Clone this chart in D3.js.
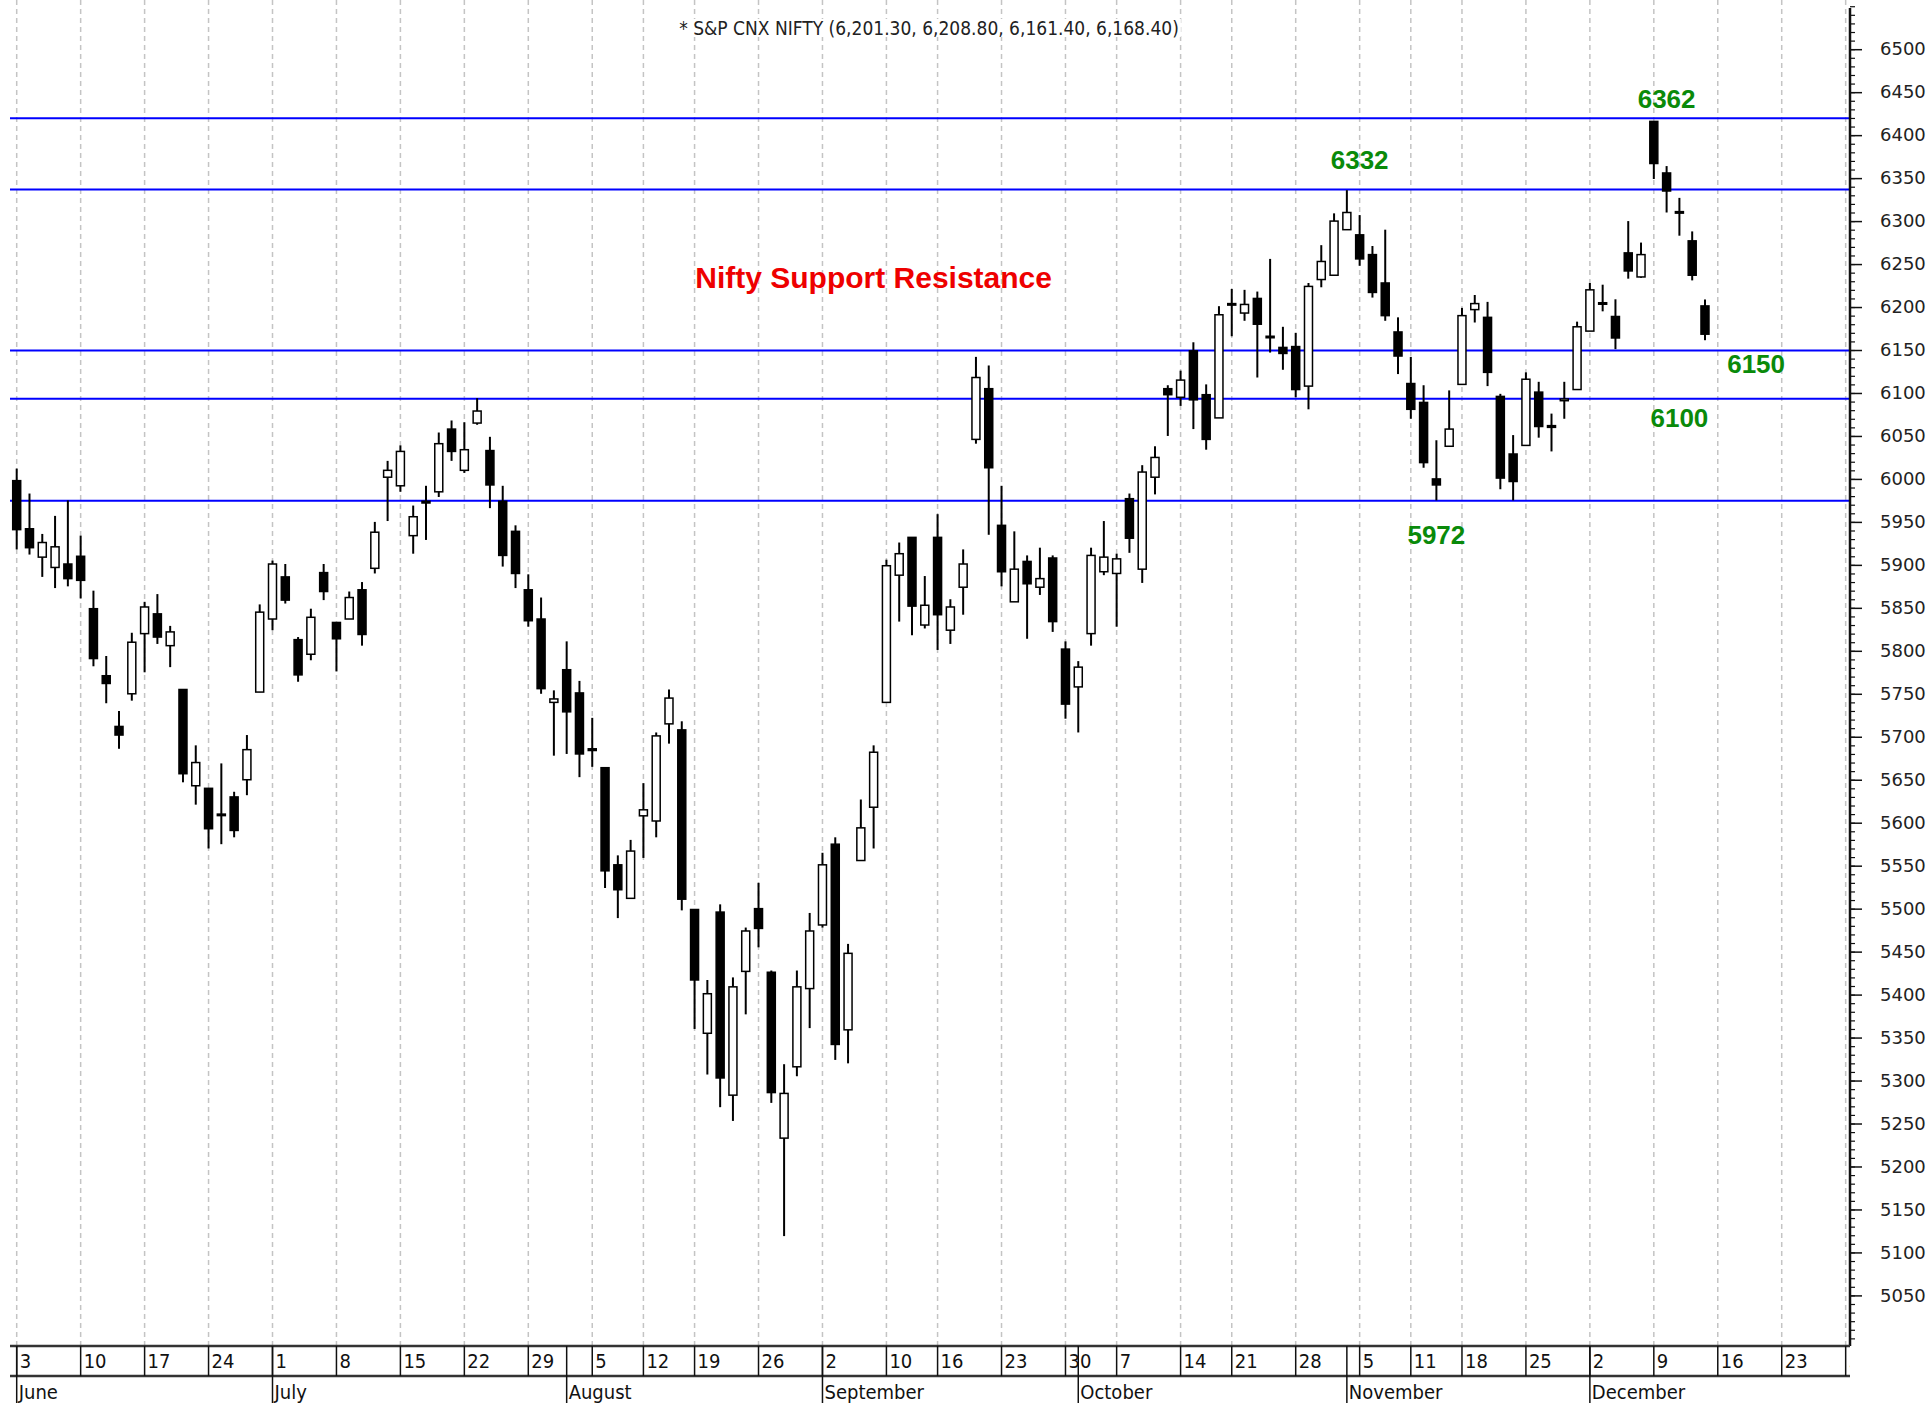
<!DOCTYPE html>
<html>
<head>
<meta charset="utf-8">
<script src="https://cdn.jsdelivr.net/npm/d3@7"></script>
<style>
  body { margin: 0; background: #fff; }
  svg { display: block; }
</style>
</head>
<body>
<div id="chart"></div>
<script>
// trading days on the chart (NSE, June - December 2013)
const dates = [
  "2013-06-03","2013-06-04","2013-06-05","2013-06-06","2013-06-07","2013-06-10","2013-06-11","2013-06-12","2013-06-13","2013-06-14",
  "2013-06-17","2013-06-18","2013-06-19","2013-06-20","2013-06-21","2013-06-24","2013-06-25","2013-06-26","2013-06-27","2013-06-28",
  "2013-07-01","2013-07-02","2013-07-03","2013-07-04","2013-07-05","2013-07-08","2013-07-09","2013-07-10","2013-07-11","2013-07-12",
  "2013-07-15","2013-07-16","2013-07-17","2013-07-18","2013-07-19","2013-07-22","2013-07-23","2013-07-24","2013-07-25","2013-07-26",
  "2013-07-29","2013-07-30","2013-07-31",
  "2013-08-01","2013-08-02","2013-08-05","2013-08-06","2013-08-07","2013-08-08","2013-08-12","2013-08-13","2013-08-14","2013-08-16",
  "2013-08-19","2013-08-20","2013-08-21","2013-08-22","2013-08-23","2013-08-26","2013-08-27","2013-08-28","2013-08-29","2013-08-30",
  "2013-09-02","2013-09-03","2013-09-04","2013-09-05","2013-09-06","2013-09-10","2013-09-11","2013-09-12","2013-09-13","2013-09-16",
  "2013-09-17","2013-09-18","2013-09-19","2013-09-20","2013-09-23","2013-09-24","2013-09-25","2013-09-26","2013-09-27","2013-09-30",
  "2013-10-01","2013-10-03","2013-10-04","2013-10-07","2013-10-08","2013-10-09","2013-10-10","2013-10-11","2013-10-14","2013-10-15",
  "2013-10-17","2013-10-18","2013-10-21","2013-10-22","2013-10-23","2013-10-24","2013-10-25","2013-10-28","2013-10-29","2013-10-30",
  "2013-10-31",
  "2013-11-01","2013-11-05","2013-11-06","2013-11-07","2013-11-08","2013-11-11","2013-11-12","2013-11-13","2013-11-14","2013-11-18",
  "2013-11-19","2013-11-20","2013-11-21","2013-11-22","2013-11-25","2013-11-26","2013-11-27","2013-11-28","2013-11-29",
  "2013-12-02","2013-12-03","2013-12-04","2013-12-05","2013-12-06","2013-12-09","2013-12-10","2013-12-11","2013-12-12","2013-12-13"
]

// empty days the chart keeps on the right
const futureDates = ["2013-12-16","2013-12-17","2013-12-18","2013-12-19","2013-12-20",
  "2013-12-23","2013-12-24","2013-12-25","2013-12-26","2013-12-27","2013-12-30"]

const opens = [
  5998,5942,5909,5897,5901,5910,5849,5771,5712,5750, 5820,5843,5806,5755,5643,5640,5610,5630,5650,5752,
  5837,5886,5813,5796,5891,5833,5837,5871,5896,6002, 5992,5934,5974,5985,6058,6010,6065,6033,5974,5939,
  5871,5837,5740,
  5778,5751,5686,5664,5551,5512,5608,5602,5715,5708, 5499,5355,5496,5283,5427,5500,5426,5233,5316,5407,
  5481,5575,5359,5556,5618,5740,5888,5932,5830,5932, 5824,5874,6046,6105,5946,5857,5904,5874,5908,5802,
  5758,5820,5892,5890,5977,5895,6002,6105,6095,6149, 6098,6071,6204,6193,6210,6166,6153,6154,6108,6232,
  6237,
  6290,6284,6261,6228,6171,6111,6089,6000,6038,6110, 6197,6188,6096,6029,6039,6101,6062,6091,6104,
  6172,6205,6189,6263,6235,6416,6356,6311,6277,6201.3
]

const highs = [
  6012,5983,5936,5957,5975,5934,5870,5794,5730,5821, 5857,5866,5829,5755,5690,5640,5669,5636,5702,5854,
  5905,5901,5816,5849,5901,5833,5869,5880,5950,6021, 6039,5969,5992,6054,6068,6066,6094,6049,5992,5946,
  5889,5862,5754,
  5811,5765,5722,5664,5562,5580,5646,5705,5755,5718, 5499,5417,5505,5420,5478,5530,5428,5319,5428,5495,
  5565,5583,5459,5627,5690,5906,5926,5932,5887,5959, 5860,5918,6142,6132,5992,5939,5911,5920,5911,5811,
  5788,5920,5951,5913,5983,6016,6038,6109,6126,6159, 6110,6201,6221,6220,6218,6256,6177,6170,6228,6272,
  6309,
  6336,6307,6271,6290,6188,6142,6109,6045,6103,6199, 6214,6206,6099,6051,6124,6113,6076,6113,6183,
  6228,6226,6209,6300,6275,6416,6364,6327,6288,6208.8
]

const lows = [
  5918,5912,5886,5873,5875,5861,5782,5739,5686,5742, 5775,5808,5781,5647,5621,5570,5575,5583,5632,5752,
  5824,5855,5764,5789,5859,5776,5837,5806,5890,5951, 5985,5913,5929,5979,6021,6007,6063,5966,5898,5873,
  5828,5750,5678,
  5680,5653,5665,5524,5489,5512,5559,5583,5692,5498, 5360,5307,5269,5253,5377,5455,5274,5119,5305,5361,
  5478,5324,5320,5556,5570,5740,5834,5818,5826,5801, 5808,5842,6041,5935,5875,5857,5814,5865,5822,5721,
  5705,5806,5888,5828,5914,5879,5982,6050,6085,6058, 6034,6071,6166,6184,6118,6147,6127,6095,6081,6223,
  6237,
  6290,6248,6211,6184,6122,6070,6013,5975,6038,6110, 6182,6108,5988,5975,6039,6048,6032,6070,6104,
  6172,6195,6151,6233,6234,6349,6310,6283,6231,6161.4
]

const closes = [
  5941,5920,5926,5921,5884,5882,5791,5762,5702,5810, 5851,5816,5822,5657,5670,5593,5609,5591,5685,5845,
  5901,5859,5772,5839,5869,5814,5862,5819,5938,6010, 6032,5956,5972,6041,6032,6034,6079,5993,5911,5890,
  5835,5756,5744,
  5729,5680,5684,5544,5522,5567,5615,5701,5745,5511, 5417,5401,5303,5409,5474,5477,5286,5285,5409,5474,
  5551,5342,5448,5594,5682,5899,5913,5852,5853,5842, 5851,5901,6118,6013,5892,5895,5878,5884,5834,5738,
  5781,5911,5909,5907,5931,6008,6025,6098,6115,6092, 6046,6191,6203,6203,6180,6165,6146,6104,6224,6253,
  6300,
  6310,6256,6217,6190,6143,6081,6019,5993,6058,6190, 6204,6124,6001,5997,6116,6061,6060,6093,6177,
  6220,6204,6164,6242,6261,6367,6335,6310,6237,6168.4
]

// horizontal support / resistance lines drawn in blue
const levels = [6419.8, 6336.7, 6149.3, 6093.4, 5974.6]

// green level annotations: text, anchor day, anchor price (text baseline)
const noteTexts = ["6362", "6332", "6150", "6100", "5972"]
const noteDates = ["2013-12-10", "2013-11-05", "2013-12-19", "2013-12-11", "2013-11-13"]
const notePrices = [6432, 6361, 6123, 6060, 5924]

const headline = "Nifty Support Resistance"
const headlineDate = "2013-09-06"
const headlinePrice = 6222

const priceTicks = [5050,5100,5150,5200,5250,5300,5350,5400,5450,5500,5550,5600,5650,5700,5750,5800,
  5850,5900,5950,6000,6050,6100,6150,6200,6250,6300,6350,6400,6450,6500]

// page constants
const width = 1929
const height = 1403
const plotLeft = 10
const plotRight = 1850
const dateRowTop = 1346
const monthRowTop = 1376
const bodyW = 8
const narrow = "'Liberation Sans Narrow', 'DejaVu Sans Condensed', sans-serif"

const allDates = dates.concat(futureDates)
const parse = d3.timeParse("%Y-%m-%d")

// one slot per day, first candle just right of the left edge
const x = d3.scalePoint()
    .domain(allDates)
    .range([16.7, 16.7 + (allDates.length - 1) * 12.79])

const y = d3.scaleLinear()
    .domain([5050, 6500])
    .range([1295.4, 49.2])

const candles = dates.map((d, i) => ({
    date: d, open: opens[i], high: highs[i], low: lows[i], close: closes[i]
}))

// first trading day of each week, and of each month
const weekStarts = allDates.filter((d, i) => i === 0 ||
    +d3.timeMonday.floor(parse(d)) !== +d3.timeMonday.floor(parse(allDates[i - 1])))
const monthStarts = allDates.filter((d, i) => i === 0 ||
    parse(d).getMonth() !== parse(allDates[i - 1]).getMonth())

const svg = d3.select("#chart").append("svg")
    .attr("width", width)
    .attr("height", height)
    .style("background", "#fff")

svg.append("defs").append("clipPath").attr("id", "plot")
    .append("rect")
    .attr("x", plotLeft).attr("y", 0)
    .attr("width", plotRight - plotLeft).attr("height", height)

const plot = svg.append("g").attr("clip-path", "url(#plot)")

// dashed weekly grid
plot.append("g")
    .selectAll("line")
    .data(weekStarts)
    .join("line")
    .attr("x1", d => x(d)).attr("x2", d => x(d))
    .attr("y1", 0).attr("y2", dateRowTop)
    .attr("stroke", "#c4c4c4")
    .attr("stroke-width", 1.5)
    .attr("stroke-dasharray", "5,4")

// title with the last bar's OHLC
const fmt = d3.format(",.2f")
const last = candles[candles.length - 1]
const title = `* S&P CNX NIFTY (${fmt(last.open)}, ${fmt(last.high)}, ${fmt(last.low)}, ${fmt(last.close)})`
const titleG = svg.append("g")
const titleText = titleG.append("text")
    .attr("x", 929).attr("y", 35)
    .attr("text-anchor", "middle")
    .style("font-family", narrow)
    .style("font-size", "19px")
    .attr("fill", "#222")
    .text(title)
const tb = titleText.node().getBBox()
titleG.insert("rect", "text")
    .attr("x", tb.x - 2).attr("y", tb.y + 2)
    .attr("width", tb.width + 4).attr("height", tb.height - 4)
    .attr("fill", "#fff")

// support / resistance lines
plot.append("g")
    .selectAll("line")
    .data(levels)
    .join("line")
    .attr("x1", plotLeft).attr("x2", plotRight)
    .attr("y1", d => y(d)).attr("y2", d => y(d))
    .attr("stroke", "#0000ff")
    .attr("stroke-width", 2)

// candles: wick then body
const cg = plot.append("g")
cg.selectAll("line")
    .data(candles)
    .join("line")
    .attr("x1", d => x(d.date)).attr("x2", d => x(d.date))
    .attr("y1", d => y(d.high)).attr("y2", d => y(d.low))
    .attr("stroke", "#000")
    .attr("stroke-width", 2)

cg.selectAll("rect")
    .data(candles)
    .join("rect")
    .attr("x", d => x(d.date) - bodyW / 2)
    .attr("y", d => y(Math.max(d.open, d.close)))
    .attr("width", bodyW)
    .attr("height", d => Math.max(1.5, Math.abs(y(d.open) - y(d.close))))
    .attr("fill", d => d.close < d.open ? "#000" : "#fff")
    .attr("stroke", "#000")
    .attr("stroke-width", 1.5)

// green level notes
svg.append("g")
    .selectAll("text")
    .data(noteTexts)
    .join("text")
    .attr("x", (d, i) => x(noteDates[i]))
    .attr("y", (d, i) => y(notePrices[i]))
    .attr("text-anchor", "middle")
    .style("font-family", "'Liberation Sans', Arial, sans-serif")
    .style("font-weight", "bold")
    .style("font-size", "26px")
    .attr("fill", "#0a8a0a")
    .text(d => d)

svg.append("text")
    .attr("x", x(headlineDate))
    .attr("y", y(headlinePrice))
    .attr("text-anchor", "middle")
    .style("font-family", "'Liberation Sans', Arial, sans-serif")
    .style("font-weight", "bold")
    .style("font-size", "30px")
    .attr("fill", "#ee0000")
    .text(headline)

// right price axis
svg.append("line")
    .attr("x1", plotRight).attr("x2", plotRight)
    .attr("y1", 8).attr("y2", dateRowTop)
    .attr("stroke", "#111")
    .attr("stroke-width", 2.5)

svg.append("g")
    .attr("transform", `translate(${plotRight},0)`)
    .call(d3.axisRight(y)
        .tickValues(d3.range(5000, 6560, 10))
        .tickSize(5)
        .tickFormat(""))
    .call(g => g.select(".domain").remove())
    .selectAll("line").attr("stroke", "#111").attr("stroke-width", 1.2)

const yAxis = svg.append("g")
    .attr("transform", `translate(${plotRight},0)`)
    .call(d3.axisRight(y)
        .tickValues(priceTicks)
        .tickSize(12)
        .tickPadding(18)
        .tickFormat(d3.format("d")))
yAxis.select(".domain").remove()
yAxis.selectAll("line").attr("stroke", "#111").attr("stroke-width", 1.5)
yAxis.selectAll("text")
    .style("font-family", "'DejaVu Sans', sans-serif")
    .style("font-size", "18px")
    .attr("fill", "#222")

// date axis: two boxed rows
const axisG = svg.append("g").attr("clip-path", "url(#plot)")

axisG.selectAll("line.row")
    .data([dateRowTop, monthRowTop])
    .join("line")
    .attr("class", "row")
    .attr("x1", plotLeft).attr("x2", plotRight)
    .attr("y1", d => d).attr("y2", d => d)
    .attr("stroke", "#333")
    .attr("stroke-width", 2.5)

axisG.selectAll("line.week")
    .data(weekStarts)
    .join("line")
    .attr("class", "week")
    .attr("x1", d => x(d)).attr("x2", d => x(d))
    .attr("y1", dateRowTop).attr("y2", monthRowTop)
    .attr("stroke", "#111")
    .attr("stroke-width", 1.5)

axisG.selectAll("text.week")
    .data(weekStarts)
    .join("text")
    .attr("class", "week")
    .attr("x", d => x(d) + 3)
    .attr("y", dateRowTop + 22)
    .style("font-family", narrow)
    .style("font-size", "20px")
    .attr("fill", "#111")
    .text(d => parse(d).getDate())

axisG.selectAll("line.month")
    .data(monthStarts)
    .join("line")
    .attr("class", "month")
    .attr("x1", d => x(d)).attr("x2", d => x(d))
    .attr("y1", dateRowTop).attr("y2", height)
    .attr("stroke", "#111")
    .attr("stroke-width", 1.5)

axisG.selectAll("text.month")
    .data(monthStarts)
    .join("text")
    .attr("class", "month")
    .attr("x", d => x(d) + 2)
    .attr("y", monthRowTop + 23)
    .style("font-family", narrow)
    .style("font-size", "20px")
    .attr("fill", "#111")
    .text(d => d3.timeFormat("%B")(parse(d)))
</script>
</body>
</html>
